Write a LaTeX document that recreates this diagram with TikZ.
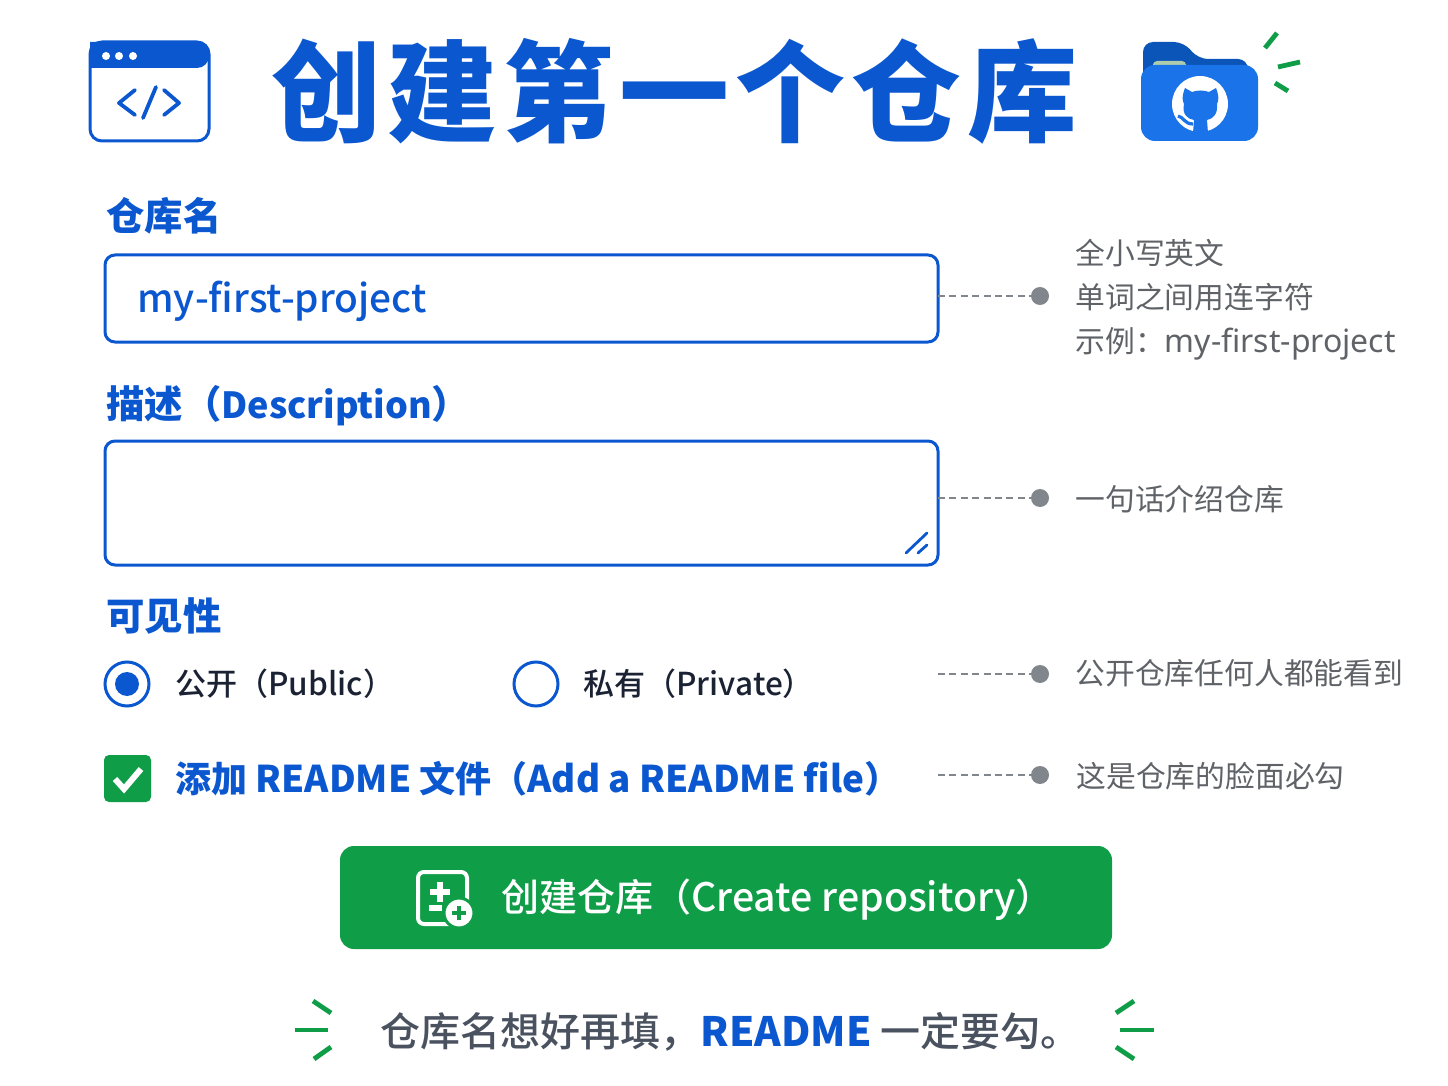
\documentclass[tikz,border=0pt]{standalone}
\usepackage{fontspec}
\usepackage{xcolor}
\setmainfont{Noto Sans CJK SC}
\newfontfamily\medfont{Noto Sans CJK SC Medium}
\newfontfamily\heavyfont[LetterSpace=5.5]{Noto Sans CJK SC Black}
\newfontfamily\latfont{Noto Sans}
\newcommand{\lat}[2]{{\fontsize{#1}{#1}\latfont #2}}
\newcommand{\latm}[2]{{\fontsize{#1}{#1}\medfont #2}}
\newcommand{\latb}[2]{{\fontsize{#1}{#1}\selectfont\bfseries #2}}
\usetikzlibrary{calc}
\definecolor{bluemain}{HTML}{0B57D0}
\definecolor{bluefolder}{HTML}{1A73E8}
\definecolor{bluedark}{HTML}{0B54B8}
\definecolor{greenmain}{HTML}{0F9D48}
\definecolor{greynote}{HTML}{5F6368}
\definecolor{greydot}{HTML}{80868B}
\definecolor{inkdark}{HTML}{1A2233}
\definecolor{greybottom}{HTML}{4A5260}
\tikzset{
  fieldlabel/.style={anchor=west,inner sep=0pt,text=bluemain,font=\fontsize{19.2}{19.2}\selectfont\bfseries},
  fieldbox/.style={draw=bluemain,line width=1.5pt,rounded corners=5pt,anchor=north west,inner sep=0pt,outer sep=0pt},
  choicetext/.style={anchor=west,inner sep=0pt,text=inkdark,font=\fontsize{15.5}{15.5}\medfont},
  notetext/.style={anchor=west,inner sep=0pt,text=greynote,font=\fontsize{14.9}{14.9}\selectfont},
  notedot/.style={circle,fill=greydot,inner sep=0pt,minimum size=9pt},
  noteline/.style={draw=greydot,line width=1.2pt,dash pattern=on 3.5pt off 2.2pt},
  spark/.style={draw=greenmain,line width=2.4pt},
  iconline/.style={draw=bluemain,line width=1.9pt,line cap=round,line join=round}
}
\begin{document}
\begin{tikzpicture}[x=0.5pt,y=-0.5pt]
  \useasboundingbox (0,0) rectangle (1448,1086);
  % title row
  \node[anchor=west,inner sep=0pt,text=bluemain,font=\fontsize{55}{55}\heavyfont] (title) at (271,91) {创建第一个仓库};
  \draw[fill=white,draw=bluemain,line width=1.5pt,rounded corners=6pt] (90,42) rectangle (209,141);
  \fill[bluemain,rounded corners=6pt] (90,42) -- (209,42) -- (209,68) [sharp corners] -- (90,68) -- cycle;
  \foreach \x in {106,119,133} \fill[white] (\x,56) circle (2pt);
  \draw[iconline] (135,90) -- (119,103) -- (135,115);
  \draw[iconline] (156,87) -- (143,118);
  \draw[iconline] (164,90) -- (179,103) -- (164,115);
  % folder
  \fill[bluedark,rounded corners=5pt] (1143,100) -- (1143,42) -- (1184,42) -- (1198,59) -- (1248,59) -- (1248,100) -- cycle;
  \fill[white!85!green!80!black,rounded corners=2pt] (1153,61) rectangle (1186,68);
  \fill[bluefolder,rounded corners=7pt] (1141,65) rectangle (1258,141);
  \fill[white] (1200,104) circle (14pt);
  \fill[bluefolder] (1185,88) -- (1192,92) .. controls (1197,90) and (1204,90) .. (1209,92) -- (1216,88)
    .. controls (1219,96) and (1219,100) .. (1217,104) .. controls (1218,114) and (1213,119) .. (1207,120)
    -- (1208,133) -- (1193,133) -- (1194,120) .. controls (1187,119) and (1182,114) .. (1184,104)
    .. controls (1182,100) and (1182,96) .. (1185,88) -- cycle;
  \draw[bluefolder,line width=1.6pt] (1178,116) .. controls (1184,117) and (1184,124) .. (1193,124);
  \draw[spark] (1265,48) -- (1277,33);
  \draw[spark] (1278,67) -- (1300,62);
  \draw[spark] (1275,83) -- (1288,91);
  % name field
  \node[fieldlabel] (namelabel) at (106,216) {仓库名};
  \node[fieldbox,minimum width=416.5pt,minimum height=43.5pt] (namebox) at (105,255) {};
  \node[anchor=west,inner sep=0pt,text=bluemain] (nametext) at (137,301) {\latm{19.4}{my-first-project}};
  \node[notedot] (namedot) at (1040,296) {};
  \draw[noteline] (namebox.east |- namedot) -- (namedot);
  \node[notetext] (note1a) at (1075,253) {全小写英文};
  \node[notetext] (note1b) at (1075,297) {单词之间用连字符};
  \node[notetext] (note1c) at (1075,344) {示例：\lat{16}{my-first-project}};
  % description field
  \node[fieldlabel] (desclabel) at (106,406) {描述（\latb{18}{Description}）};
  \node[fieldbox,minimum width=416.5pt,minimum height=62pt] (descbox) at (105,441) {};
  \draw[draw=bluemain,line width=1.4pt,line cap=round] (906,553) -- (927,533);
  \draw[draw=bluemain,line width=1.4pt,line cap=round] (918,553) -- (927,545);
  \node[notedot] (descdot) at (1040,498) {};
  \draw[noteline] (descbox.east |- descdot) -- (descdot);
  \node[notetext] (note2) at (1075,499) {一句话介绍仓库};
  % visibility
  \node[fieldlabel] (vislabel) at (106,616) {可见性};
  \node[circle,draw=bluemain,line width=1.5pt,fill=white,minimum size=22pt,inner sep=0pt] (publicradio) at (127,684) {};
  \fill[bluemain] (publicradio.center) circle (6pt);
  \node[choicetext] (publictext) at (175,684) {公开（\latm{15.8}{Public}）};
  \node[circle,draw=bluemain,line width=1.5pt,fill=white,minimum size=22pt,inner sep=0pt] (privateradio) at (536,684) {};
  \node[choicetext] (privatetext) at (583,684) {私有（\latm{15.8}{Private}）};
  \coordinate (visstart) at (938,674);
  \node[notedot] (visdot) at (1040,674) {};
  \draw[noteline] (visstart) -- (visdot);
  \node[notetext] (note3) at (1075,673) {公开仓库任何人都能看到};
  % readme
  \node[fill=greenmain,rounded corners=2.5pt,minimum size=23.5pt,inner sep=0pt] (readmebox) at (127.5,778.5) {};
  \draw[white,line width=3pt] (115,779) -- (124,789) -- (141,769);
  \node[anchor=west,inner sep=0pt,text=bluemain,font=\fontsize{18}{18}\selectfont\bfseries] (readmetext) at (175,779) {添加 \latb{18.4}{README} 文件（\latb{18.4}{Add a README file}）};
  \coordinate (readmestart) at (938,775);
  \node[notedot] (readmedot) at (1040,775) {};
  \draw[noteline] (readmestart) -- (readmedot);
  \node[notetext] (note4) at (1076,776) {这是仓库的脸面必勾};
  % button
  \node[fill=greenmain,rounded corners=7pt,minimum width=386pt,minimum height=51.5pt,inner sep=0pt] (button) at (726,897.5) {};
  \draw[white,line width=2pt,rounded corners=3pt] (418,872) rectangle (467,924);
  \draw[white,line width=2.6pt] (430,892) -- (450,892) (440,882) -- (440,902) (429,908) -- (442,908);
  \fill[white,draw=greenmain,line width=1.5pt] (459,913) circle (7.5pt);
  \draw[greenmain,line width=1.6pt] (452,913) -- (466,913) (459,906) -- (459,920);
  \node[anchor=west,inner sep=0pt,text=white,font=\fontsize{19}{19}\medfont] (buttontext) at (501,900) {创建仓库（\latm{19.6}{Create repository}）};
  % bottom line
  \node[anchor=west,inner sep=0pt,text=greybottom,font=\fontsize{20}{20}\medfont] (tagline) at (380,1032) {仓库名想好再填，\textcolor{bluemain}{\latb{20.2}{README}} 一定要勾。};
  \draw[spark] (313,1001) -- (331,1013);
  \draw[spark] (295,1030) -- (328,1030);
  \draw[spark] (314,1059) -- (331,1047);
  \draw[spark] (1134,1001) -- (1116,1013);
  \draw[spark] (1120,1030) -- (1154,1030);
  \draw[spark] (1134,1059) -- (1116,1047);
\end{tikzpicture}
\end{document}
